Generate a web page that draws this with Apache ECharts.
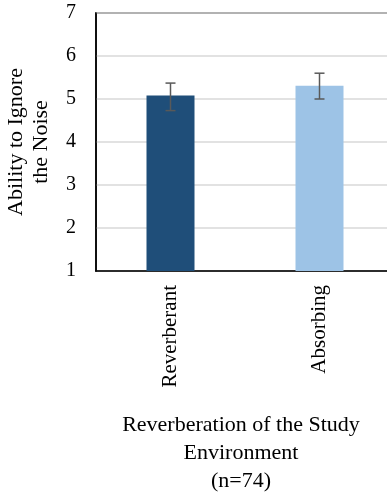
<!DOCTYPE html>
<html><head><meta charset="utf-8">
<script src="https://cdn.jsdelivr.net/npm/echarts@6/dist/echarts.min.js"></script>
<style>html,body{margin:0;padding:0;background:#fff}#c{width:387px;height:493px}</style>
</head><body><div id="c"></div>
<script>
const categories = ['Reverberant', 'Absorbing'];
const means = [5.08, 5.31];
const errLow = [4.73, 5.00];
const errHigh = [5.37, 5.60];
const barColors = ['#1f4e79', '#9dc3e6'];
const yTicks = [1, 2, 3, 4, 5, 6, 7];

const font = 'Liberation Serif';
const chart = echarts.init(document.getElementById('c'), null, {renderer: 'canvas'});
chart.setOption({
  animation: false,
  grid: {left: 96, top: 13, width: 298, height: 258, show: true, borderColor: '#000', borderWidth: 1.5, containLabel: false, outerBoundsMode: 'none'},
  xAxis: {
    type: 'category', data: categories,
    axisLine: {show: true, lineStyle: {color: '#000', width: 1.5}},
    axisTick: {show: false},
    axisLabel: {rotate: 90, margin: 14, color: '#000', fontFamily: font, fontSize: 21},
    name: 'Reverberation of the Study\nEnvironment\n(n=74)',
    nameLocation: 'middle', nameGap: 140,
    nameTextStyle: {color: '#000', fontFamily: font, fontSize: 22, lineHeight: 28, align: 'center', padding: [0, 8, 0, 0]}
  },
  yAxis: {
    type: 'value', min: yTicks[0], max: yTicks[yTicks.length - 1], interval: 1,
    axisLine: {show: true, lineStyle: {color: '#000', width: 1.5}},
    axisTick: {show: false},
    splitLine: {show: true, lineStyle: {color: '#d9d9d9', width: 1.5}},
    axisLabel: {margin: 20, color: '#000', fontFamily: font, fontSize: 20},
    name: 'Ability to Ignore\nthe Noise',
    nameLocation: 'middle', nameGap: 42,
    nameTextStyle: {color: '#000', fontFamily: font, fontSize: 22, lineHeight: 25, align: 'center'}
  },
  series: [
    {
      type: 'bar', barWidth: 48,
      data: means.map((v, i) => ({value: v, itemStyle: {color: barColors[i]}}))
    },
    {
      type: 'custom',
      data: categories.map((c, i) => [i, errLow[i], errHigh[i]]),
      renderItem: function (params, api) {
        const lo = api.coord([api.value(0), api.value(1)]);
        const hi = api.coord([api.value(0), api.value(2)]);
        const hw = 5;
        const st = {stroke: '#595959', lineWidth: 1.5};
        return {type: 'group', children: [
          {type: 'line', shape: {x1: lo[0], y1: lo[1], x2: hi[0], y2: hi[1]}, style: st},
          {type: 'line', shape: {x1: lo[0] - hw, y1: lo[1], x2: lo[0] + hw, y2: lo[1]}, style: st},
          {type: 'line', shape: {x1: hi[0] - hw, y1: hi[1], x2: hi[0] + hw, y2: hi[1]}, style: st}
        ]};
      },
      z: 5
    }
  ]
});
</script></body></html>
